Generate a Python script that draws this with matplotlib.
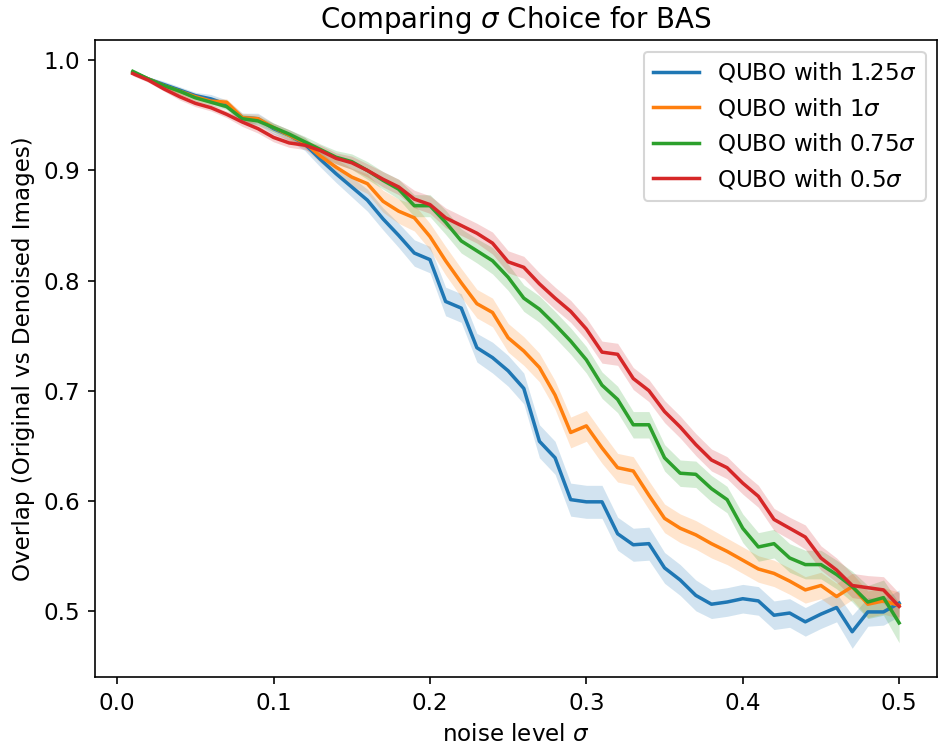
import numpy as np
import matplotlib
matplotlib.use("Agg")
import matplotlib.pyplot as plt

plt.rcParams["font.size"] = 11.2

noise = [round(0.01 * k, 2) for k in range(1, 51)]

labels = [r"QUBO with $1.25\sigma$", r"QUBO with $1\sigma$",
          r"QUBO with $0.75\sigma$", r"QUBO with $0.5\sigma$"]

blue = [0.989, 0.983, 0.978, 0.973, 0.968, 0.965, 0.960, 0.948, 0.947, 0.938,
        0.932, 0.924, 0.910, 0.897, 0.885, 0.873, 0.856, 0.841, 0.825, 0.819,
        0.781, 0.775, 0.739, 0.730, 0.718, 0.702, 0.654, 0.639, 0.601, 0.599,
        0.599, 0.570, 0.560, 0.561, 0.539, 0.528, 0.514, 0.506, 0.508, 0.511,
        0.509, 0.496, 0.498, 0.490, 0.497, 0.503, 0.481, 0.499, 0.499, 0.507]
orange = [0.989, 0.983, 0.977, 0.972, 0.967, 0.963, 0.962, 0.948, 0.947, 0.939,
          0.932, 0.925, 0.913, 0.903, 0.894, 0.888, 0.872, 0.863, 0.857, 0.840,
          0.818, 0.798, 0.779, 0.771, 0.748, 0.736, 0.721, 0.696, 0.662, 0.668,
          0.648, 0.630, 0.627, 0.605, 0.584, 0.575, 0.569, 0.561, 0.554, 0.546,
          0.538, 0.534, 0.527, 0.519, 0.523, 0.513, 0.522, 0.506, 0.509, 0.505]
green = [0.990, 0.983, 0.977, 0.972, 0.966, 0.962, 0.958, 0.947, 0.945, 0.939,
         0.933, 0.926, 0.919, 0.912, 0.908, 0.900, 0.891, 0.883, 0.868, 0.868,
         0.853, 0.836, 0.827, 0.818, 0.803, 0.784, 0.774, 0.760, 0.745, 0.728,
         0.705, 0.692, 0.669, 0.669, 0.639, 0.625, 0.624, 0.611, 0.601, 0.575,
         0.558, 0.561, 0.548, 0.542, 0.542, 0.533, 0.522, 0.508, 0.512, 0.489]
red = [0.988, 0.982, 0.974, 0.967, 0.961, 0.957, 0.951, 0.944, 0.938, 0.930,
       0.925, 0.923, 0.918, 0.911, 0.907, 0.900, 0.892, 0.885, 0.874, 0.869,
       0.857, 0.850, 0.843, 0.834, 0.817, 0.812, 0.797, 0.784, 0.772, 0.756,
       0.735, 0.733, 0.711, 0.700, 0.681, 0.667, 0.651, 0.637, 0.630, 0.616,
       0.604, 0.583, 0.575, 0.567, 0.548, 0.537, 0.523, 0.521, 0.519, 0.504]

# half-widths of the shaded bands
blue_err = [0.002, 0.002, 0.003, 0.003, 0.003, 0.004, 0.004, 0.004, 0.005, 0.005,
            0.005, 0.006, 0.007, 0.008, 0.009, 0.010, 0.010, 0.011, 0.012, 0.012,
            0.013, 0.013, 0.013, 0.014, 0.014, 0.014, 0.015, 0.015, 0.015, 0.015,
            0.015, 0.015, 0.015, 0.015, 0.014, 0.014, 0.014, 0.013, 0.013, 0.013,
            0.013, 0.013, 0.013, 0.013, 0.013, 0.013, 0.015, 0.013, 0.012, 0.012]
orange_err = [0.002, 0.002, 0.002, 0.003, 0.003, 0.003, 0.003, 0.004, 0.004, 0.004,
              0.005, 0.005, 0.006, 0.007, 0.008, 0.009, 0.010, 0.011, 0.012, 0.012,
              0.013, 0.013, 0.013, 0.013, 0.013, 0.013, 0.013, 0.013, 0.014, 0.014,
              0.014, 0.013, 0.013, 0.013, 0.013, 0.013, 0.013, 0.013, 0.012, 0.012,
              0.012, 0.012, 0.012, 0.012, 0.012, 0.012, 0.012, 0.012, 0.012, 0.012]
green_err = [0.002, 0.002, 0.002, 0.003, 0.003, 0.003, 0.003, 0.004, 0.004, 0.004,
             0.004, 0.005, 0.005, 0.006, 0.007, 0.008, 0.008, 0.009, 0.010, 0.010,
             0.011, 0.011, 0.011, 0.012, 0.012, 0.012, 0.012, 0.012, 0.012, 0.012,
             0.012, 0.012, 0.012, 0.012, 0.012, 0.012, 0.012, 0.012, 0.012, 0.013,
             0.013, 0.013, 0.013, 0.013, 0.013, 0.013, 0.014, 0.015, 0.016, 0.018]
red_err = [0.002, 0.002, 0.002, 0.003, 0.003, 0.003, 0.003, 0.004, 0.004, 0.004,
           0.004, 0.004, 0.005, 0.005, 0.006, 0.006, 0.007, 0.007, 0.008, 0.008,
           0.009, 0.009, 0.009, 0.010, 0.010, 0.010, 0.010, 0.010, 0.010, 0.010,
           0.010, 0.010, 0.010, 0.010, 0.010, 0.010, 0.010, 0.010, 0.010, 0.010,
           0.010, 0.010, 0.010, 0.011, 0.011, 0.011, 0.011, 0.011, 0.012, 0.012]

series = [blue, orange, green, red]
errors = [blue_err, orange_err, green_err, red_err]
colors = ["#1f77b4", "#ff7f0e", "#2ca02c", "#d62728"]

fig = plt.figure(figsize=(945 / 148, 745 / 148), dpi=148)
ax = fig.add_subplot(111)
fig.subplots_adjust(left=0.1, right=0.992, top=0.946, bottom=0.091)

x = np.array(noise)
for ys, es, c, lab in zip(series, errors, colors, labels):
    y = np.array(ys)
    e = np.array(es)
    ax.plot(x, y, color=c, label=lab, lw=1.7)
    ax.fill_between(x, y - e, y + e, color=c, alpha=0.2, lw=0)

ax.set_title(r"Comparing $\sigma$ Choice for BAS")
ax.set_xlabel(r"noise level $\sigma$")
ax.set_ylabel("Overlap (Original vs Denoised Images)")
ax.legend(loc="upper right")

fig.savefig("out.png", dpi=148)
